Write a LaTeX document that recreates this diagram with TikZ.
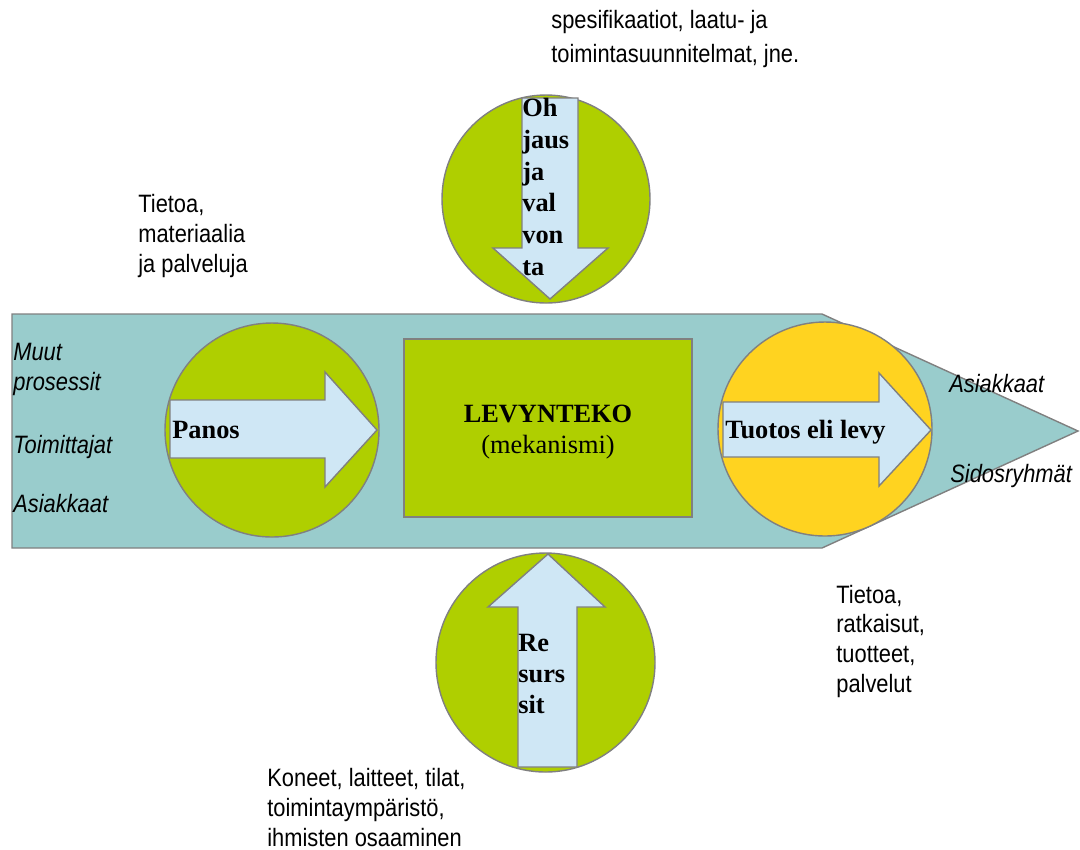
\documentclass[tikz,border=0pt]{standalone}
\usepackage{fontspec}
\setmainfont{Liberation Serif}
\newfontfamily\lsans[FakeStretch=0.87]{Liberation Sans}
\definecolor{bigteal}{HTML}{99CCCC}
\definecolor{leaf}{HTML}{AFCF00}
\definecolor{sun}{HTML}{FFD320}
\definecolor{pale}{HTML}{CFE7F5}
\definecolor{rim}{HTML}{808080}
\tikzset{
  shapeline/.style={draw=rim, line width=0.8pt},
  circ/.style={shapeline, circle, fill=leaf, inner sep=0pt},
  flow/.style={shapeline, fill=pale, line join=miter},
  serifbold/.style={font=\fontsize{15}{18}\selectfont\bfseries, inner sep=0pt},
  serifstack/.style={font=\fontsize{15}{18}\selectfont\bfseries, inner sep=0pt, align=left},
  note/.style={font=\lsans\fontsize{14.3}{16.8}\selectfont, inner sep=0pt, align=left},
  inote/.style={font=\lsans\fontsize{14.3}{16.8}\selectfont\itshape, inner sep=0pt, align=left},
}
\begin{document}
\begin{tikzpicture}[x=0.2mm,y=-0.2mm]
\useasboundingbox (0,0) rectangle (1080,849);
% big process arrow
\draw[shapeline, fill=bigteal] (12,314) -- (822,314) -- (1078,431) -- (822,548) -- (12,548) -- cycle;
% circles
\node[circ, minimum size=42.8mm] (panos) at (272,430) {};
\node[circ, minimum size=42.8mm, fill=sun] (tuotos) at (825,429) {};
\node[circ, minimum size=41.6mm] (ohjaus) at (546,199) {};
\node[circ, minimum size=43.8mm] (resurssit) at (545.5,662.5) {};
% mechanism box
\node[shapeline, fill=leaf, rectangle, minimum width=57.6mm, minimum height=35.6mm] (mech) at (548,428) {};
\node[serifbold, anchor=base] (lev) at (548,422) {LEVYNTEKO};
\node[font=\fontsize{15}{18}\selectfont, inner sep=0pt, anchor=base] (mek) at (548,453) {(mekanismi)};
% flow arrows
\draw[flow] (170,400) -- (325,400) -- (325,372) -- (377,430) -- (325,487) -- (325,458) -- (170,458) -- cycle;
\draw[flow] (723,402) -- (879,402) -- (879,373) -- (931,430) -- (879,486) -- (879,457) -- (723,457) -- cycle;
\draw[flow] (522,98) -- (578,98) -- (578,248) -- (608,248) -- (550,299) -- (493,248) -- (522,248) -- cycle;
\draw[flow] (548,554) -- (605,607) -- (577,607) -- (577,767) -- (518,767) -- (518,607) -- (488,607) -- cycle;
% arrow labels
\node[serifbold, anchor=base west] (lpanos) at (172,438) {Panos};
\node[serifbold, anchor=base west] (ltuotos) at (725,438) {Tuotos eli levy};
\node[serifstack, anchor=base west, font=\fontsize{15}{18}\selectfont\bfseries] (lohjaus) at (522,275) {Oh\\jaus\\ja\\val\\von\\ta};
\node[serifstack, anchor=base west, font=\fontsize{15}{17.4}\selectfont\bfseries] (lres) at (518,713) {Re\\surs\\sit};
% side notes
\node[note, anchor=base west, font=\lsans\fontsize{14.3}{18.8}\selectfont] (nspec) at (551,62) {spesifikaatiot, laatu- ja\\toimintasuunnitelmat, jne.};
\node[note, anchor=base west] (nin) at (138,272) {Tietoa,\\materiaalia\\ja palveluja};
\node[note, anchor=base west] (nout) at (836,692) {Tietoa,\\ratkaisut,\\tuotteet,\\palvelut};
\node[note, anchor=base west] (nres) at (267,846) {Koneet, laitteet, tilat,\\toimintaympäristö,\\ihmisten osaaminen};
% italic labels
\node[inote, anchor=base west] (muut) at (13,390) {Muut\\prosessit};
\node[inote, anchor=base west] (toim) at (13,453) {Toimittajat};
\node[inote, anchor=base west] (asl) at (13,512) {Asiakkaat};
\node[inote, anchor=base west] (asr) at (949,392) {Asiakkaat};
\node[inote, anchor=base west] (sid) at (950,482) {Sidosryhmät};
\end{tikzpicture}
\end{document}
